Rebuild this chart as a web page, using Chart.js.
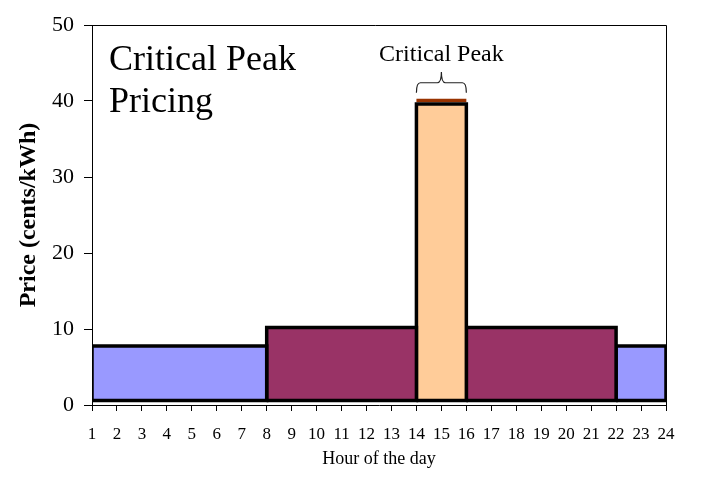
<!DOCTYPE html>
<html><head><meta charset="utf-8">
<script src="https://cdn.jsdelivr.net/npm/chart.js@4"></script>
<style>html,body{margin:0;padding:0;background:#fff}</style>
</head><body>
<canvas id="c" width="710" height="477"></canvas>
<script>
// ---- data ----
const periodStart = [1, 8, 14, 16, 22];
const periodEnd   = [8, 14, 16, 22, 24];
const periodPrice = [7.75, 10.2, 39.6, 10.2, 7.75];
const periodColor = ['#9999FF', '#993366', '#FFCC99', '#993366', '#9999FF'];
const barBase = 0.6;
const criticalPeakPrice = 40.05;
const criticalPeakRange = [14, 16];
const hourTicks = [1,2,3,4,5,6,7,8,9,10,11,12,13,14,15,16,17,18,19,20,21,22,23,24];
const priceTicks = [0, 10, 20, 30, 40, 50];
const chartTitle = ['Critical Peak', 'Pricing'];
const peakLabel = 'Critical Peak';

const SERIF = '"Liberation Serif", "Times New Roman", serif';

const datasets = periodStart.map((s, i) => ({
  data: [
    {x: s, y: barBase}, {x: s, y: periodPrice[i]},
    {x: periodEnd[i], y: periodPrice[i]}, {x: periodEnd[i], y: barBase},
    {x: s, y: barBase}
  ],
  borderColor: '#000',
  borderWidth: 3.5,
  borderJoinStyle: 'miter',
  backgroundColor: periodColor[i],
  fill: 'shape',
  pointRadius: 0,
  tension: 0
}));
datasets.push({
  data: [{x: criticalPeakRange[0], y: criticalPeakPrice}, {x: criticalPeakRange[1], y: criticalPeakPrice}],
  borderColor: '#993300',
  borderWidth: 3.5,
  fill: false,
  pointRadius: 0
});

const decor = {
  id: 'decor',
  afterDraw(chart) {
    const {ctx, chartArea: a, scales: {x, y}} = chart;
    ctx.save();
    // top & right frame
    ctx.strokeStyle = '#000'; ctx.lineWidth = 1;
    ctx.beginPath();
    ctx.moveTo(a.left - 8, a.top + 0.5); ctx.lineTo(a.right + 0.5, a.top + 0.5);
    ctx.lineTo(a.right + 0.5, a.bottom);
    ctx.stroke();
    // title
    ctx.fillStyle = '#000';
    ctx.font = '36px ' + SERIF;
    ctx.textAlign = 'left'; ctx.textBaseline = 'alphabetic';
    ctx.fillText(chartTitle[0], a.left + 17, a.top + 45);
    ctx.fillText(chartTitle[1], a.left + 17, a.top + 87);
    // brace
    const x1 = x.getPixelForValue(criticalPeakRange[0]);
    const x2 = x.getPixelForValue(criticalPeakRange[1]);
    const xm = (x1 + x2) / 2;
    const yEnd = y.getPixelForValue(41.1);
    const yH = y.getPixelForValue(42.4);
    const yTip = y.getPixelForValue(43.8);
    const r = 4;
    ctx.strokeStyle = '#222'; ctx.lineWidth = 1.2;
    ctx.beginPath();
    ctx.moveTo(x1, yEnd);
    ctx.quadraticCurveTo(x1, yH, x1 + r, yH);
    ctx.lineTo(xm - r, yH);
    ctx.quadraticCurveTo(xm, yH, xm, yTip);
    ctx.quadraticCurveTo(xm, yH, xm + r, yH);
    ctx.lineTo(x2 - r, yH);
    ctx.quadraticCurveTo(x2, yH, x2, yEnd);
    ctx.stroke();
    ctx.font = '24px ' + SERIF;
    ctx.textAlign = 'center';
    ctx.fillText(peakLabel, xm, y.getPixelForValue(45.2));
    ctx.restore();
  }
};

new Chart(document.getElementById('c'), {
  type: 'line',
  data: {datasets},
  options: {
    responsive: false,
    animation: false,
    layout: {padding: {left: 0, right: 44, top: 25, bottom: 0}},
    plugins: {legend: {display: false}, tooltip: {enabled: false}},
    scales: {
      x: {
        type: 'linear', min: 1, max: 24,
        afterBuildTicks: s => { s.ticks = hourTicks.map(v => ({value: v})); },
        afterFit: s => { s.height = 72; },
        grid: {drawOnChartArea: false, drawTicks: true, tickLength: 6, color: '#000'},
        border: {display: true, color: '#000', width: 1},
        ticks: {color: '#000', font: {family: SERIF, size: 17}, padding: 13, maxRotation: 0, autoSkip: false},
        title: {display: true, text: 'Hour of the day', color: '#000', font: {family: SERIF, size: 18}, padding: {top: 0, bottom: 7}}
      },
      y: {
        type: 'linear', min: 0, max: 50,
        afterBuildTicks: s => { s.ticks = priceTicks.map(v => ({value: v})); },
        afterFit: s => { s.width = 92; },
        grid: {drawOnChartArea: false, drawTicks: true, tickLength: 8, color: '#000'},
        border: {display: true, color: '#000', width: 1},
        ticks: {color: '#000', font: {family: SERIF, size: 22}, padding: 10},
        title: {display: true, text: 'Price (cents/kWh)', color: '#000', font: {family: SERIF, size: 24, weight: 'bold'}, padding: {top: 14, bottom: 0}}
      }
    }
  },
  plugins: [decor]
});
</script>
</body></html>
